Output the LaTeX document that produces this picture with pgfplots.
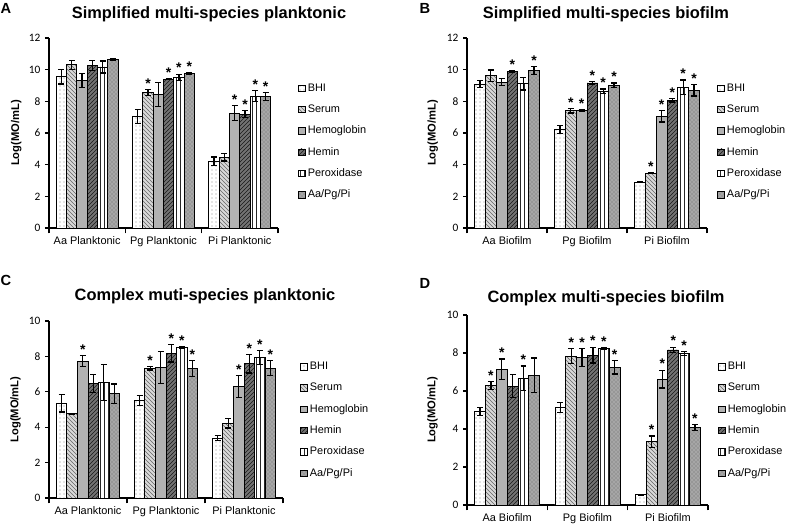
\documentclass[border=0pt]{standalone}
\usepackage{fontspec}
\setmainfont{Liberation Sans}
\newfontfamily\carlito{Carlito}
\usepackage{pgfplots}
\usepackage{pgfplotstable}
\pgfplotsset{compat=1.18}
\usetikzlibrary{patterns}

\def\px{0.75pt}

% columns: value, error, star flag for each medium
\pgfplotstableread{
x bhi bhie bhis ser sere sers hgb hgbe hgbs hem heme hems per pere pers mix mixe mixs
0 9.55 0.45 {} 10.30 0.30 {} 9.33 0.45 {} 10.27 0.30 {} 10.17 0.38 {} 10.62 0.05 {}
1 7.05 0.45 {} 8.57 0.20 *  8.42 0.75 {} 9.41 0.05 *  9.52 0.20 *  9.77 0.05 *
2 4.21 0.28 {} 4.48 0.25 {} 7.26 0.47 *  7.20 0.20 *  8.32 0.35 *  8.32 0.25 *
}\tabA
\pgfplotstableread{
x bhi bhie bhis ser sere sers hgb hgbe hgbs hem heme hems per pere pers mix mixe mixs
0 9.09 0.22 {} 9.62 0.36 {} 9.22 0.20 {} 9.89 0.05 *  9.12 0.40 {} 9.96 0.25 *
1 6.21 0.25 {} 7.41 0.15 *  7.41 0.05 *  9.16 0.10 *  8.63 0.15 *  9.01 0.15 *
2 2.90 0.05 {} 3.47 0.05 *  7.05 0.35 *  8.06 0.10 *  8.90 0.45 *  8.69 0.35 *
}\tabB
\pgfplotstableread{
x bhi bhie bhis ser sere sers hgb hgbe hgbs hem heme hems per pere pers mix mixe mixs
0 5.36 0.50 {} 4.76 0.02 {} 7.74 0.30 *  6.48 0.50 {} 6.52 1.02 {} 5.88 0.56 {}
1 5.51 0.27 {} 7.33 0.10 *  7.39 0.90 {} 8.18 0.50 *  8.50 0.05 *  7.33 0.45 *
2 3.38 0.15 {} 4.23 0.27 {} 6.30 0.60 *  7.58 0.52 *  7.95 0.40 *  7.33 0.42 *
}\tabC
\pgfplotstableread{
x bhi bhie bhis ser sere sers hgb hgbe hgbs hem heme hems per pere pers mix mixe mixs
0 4.91 0.21 {} 6.30 0.20 *  7.14 0.55 *  6.26 0.60 {} 6.67 0.65 *  6.84 0.90 {}
1 5.14 0.25 {} 7.84 0.40 *  7.77 0.46 *  7.89 0.42 *  8.25 0.05 *  7.25 0.35 *
2 0.53 0.00 {} 3.33 0.30 *  6.63 0.47 *  8.16 0.15 *  7.98 0.10 *  4.09 0.15 *
}\tabD

\pgfplotsset{
  panel/.style={
    scale only axis,
    anchor=south west,
    axis lines*=left,
    xmin=-0.5, xmax=2.5,
    ymin=0,
    xtick={0,1,2},
    minor xtick={-0.5,0.5,1.5,2.5},
    major x tick style={draw=none},
    minor x tick style={black, line width=0.8pt},
    minor tick length=4pt,
    major tick length=3pt,
    tick align=outside,
    ytick style={black, line width=0.8pt},
    axis line style={black, line width=0.8pt},
    xticklabel style={font=\fontsize{8.2}{9}\selectfont},
    yticklabel style={font=\carlito\fontsize{8.5}{9}\selectfont},
    /pgf/number format/assume math mode=true,
    ylabel={Log(MO/mL)},
    ylabel style={font=\bfseries\fontsize{8.4}{10}\selectfont,
      at={(axis description cs:-0.143,0.5)}, anchor=center},
    error bars/y dir=both, error bars/y explicit,
    error bars/error bar style={line width=0.9pt, black},
    error bars/error mark options={rotate=90, mark size=2.2pt, line width=0.9pt, black},
    nodes near coords,
    point meta=explicit symbolic,
    every node near coord/.append style={font=\bfseries\fontsize{10.5}{10}\selectfont,
      inner sep=0.5pt, anchor=south, black},
    legend cell align=left,
    legend style={draw=none, fill=none, font=\fontsize{8.2}{9}\selectfont,
      anchor=north west, row sep=4.6pt, inner sep=0pt},
    legend image code/.code={\draw[##1, line width=0.4pt] (0pt,-2.4pt) rectangle (4.8pt,2.4pt);},
    clip=false,
  },
  bhi/.style={fill=white, postaction={pattern=dots, pattern color=black!45}},
  ser/.style={fill=black!15, postaction={pattern=north west lines, pattern color=black!60}},
  hgb/.style={fill=black!30},
  hem/.style={fill=black!55, postaction={pattern=north east lines, pattern color=black!90}},
  per/.style={fill=white, postaction={pattern=vertical lines, pattern color=black!85}},
  mix/.style={fill=black!35, postaction={pattern=crosshatch dots, pattern color=black!60}},
}

% one bar series: table, column, offset of the bar within its group
\newcommand\series[3]{%
  \addplot[ybar, bar width=0.135, bar shift=0, draw=black, line width=0.7pt, #2,
    visualization depends on={\thisrow{#2e}\as\err},
    every node near coord/.append style={shift={(axis direction cs:0,\err)}}]
    table[x expr=\thisrow{x}+#3, y=#2, y error=#2e, meta=#2s] {#1};
}
\newcommand\allseries[1]{%
  \series{#1}{bhi}{-0.3375}
  \series{#1}{ser}{-0.2025}
  \series{#1}{hgb}{-0.0675}
  \series{#1}{hem}{0.0675}
  \series{#1}{per}{0.2025}
  \series{#1}{mix}{0.3375}
  \legend{BHI, Serum, Hemoglobin, Hemin, Peroxidase, Aa/Pg/Pi}
}

\begin{document}
\begin{tikzpicture}
\path[use as bounding box] (0,0) rectangle (787*\px,-526*\px);

\node[font=\bfseries\fontsize{11}{12}\selectfont, anchor=center] at (6*\px,-8*\px) {A};
\node[font=\bfseries\fontsize{11}{12}\selectfont, anchor=center] at (425*\px,-8*\px) {B};
\node[font=\bfseries\fontsize{11}{12}\selectfont, anchor=center] at (6*\px,-280*\px) {C};
\node[font=\bfseries\fontsize{11}{12}\selectfont, anchor=center] at (425*\px,-283*\px) {D};

\node[font=\bfseries\fontsize{12.3}{14}\selectfont] at (209*\px,-14*\px) {Simplified multi-species planktonic};
\node[font=\bfseries\fontsize{12.3}{14}\selectfont] at (606*\px,-14*\px) {Simplified multi-species biofilm};
\node[font=\bfseries\fontsize{12.3}{14}\selectfont] at (205*\px,-296*\px) {Complex muti-species planktonic};
\node[font=\bfseries\fontsize{12.3}{14}\selectfont] at (606*\px,-298*\px) {Complex multi-species biofilm};

\begin{axis}[panel, at={(49*\px,-228*\px)}, width=229*\px, height=190*\px,
  ymax=12, ytick={0,2,...,12},
  xticklabels={Aa Planktonic, Pg Planktonic, Pi Planktonic},
  legend style={at={(1.087,0.775)}}]
  \allseries{\tabA}
\end{axis}

\begin{axis}[panel, at={(467*\px,-228*\px)}, width=240*\px, height=190*\px,
  ymax=12, ytick={0,2,...,12},
  xticklabels={Aa Biofilm, Pg Biofilm, Pi Biofilm},
  legend style={at={(1.042,0.775)}}]
  \allseries{\tabB}
\end{axis}

\begin{axis}[panel, at={(49*\px,-498*\px)}, width=234*\px, height=177*\px,
  ymax=10, ytick={0,2,...,10},
  xticklabels={Aa Planktonic, Pg Planktonic, Pi Planktonic},
  legend style={at={(1.073,0.785)}}]
  \allseries{\tabC}
\end{axis}

\begin{axis}[panel, at={(467*\px,-505*\px)}, width=241*\px, height=190*\px,
  ymax=10, ytick={0,2,...,10},
  xticklabels={Aa Biofilm, Pg Biofilm, Pi Biofilm},
  legend style={at={(1.041,0.768)}}]
  \allseries{\tabD}
\end{axis}
\end{tikzpicture}
\end{document}
